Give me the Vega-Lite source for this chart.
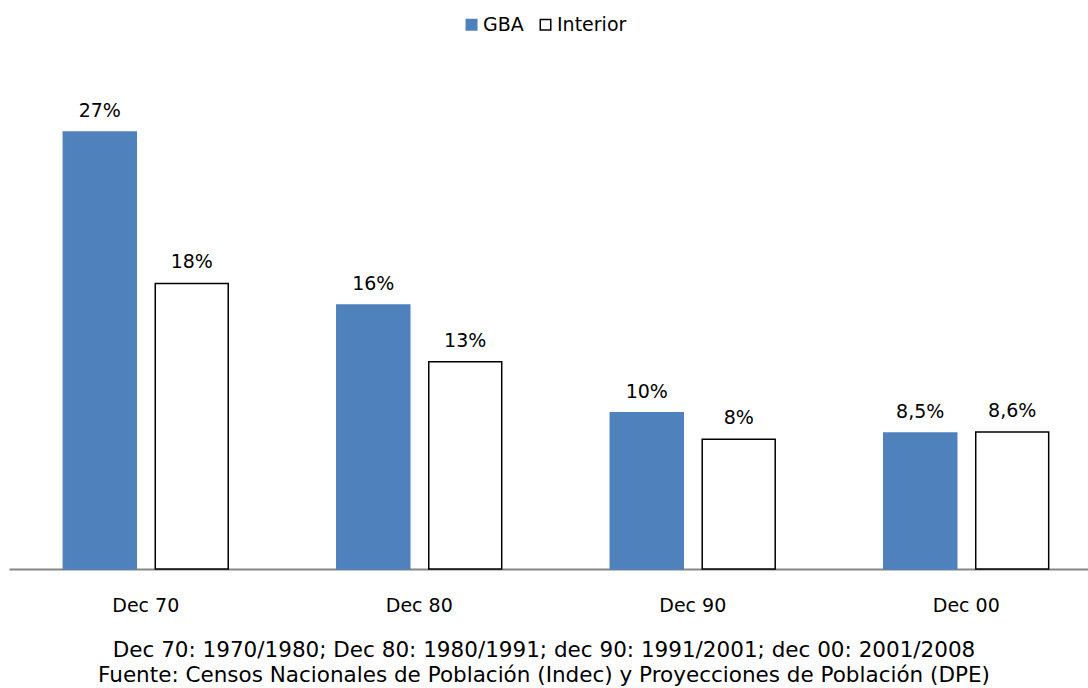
{
  "$schema": "https://vega.github.io/schema/vega-lite/v6.json",
  "width": 1088,
  "height": 482,
  "autosize": "none",
  "padding": {"left": 0, "right": 0, "top": 87, "bottom": 119},
  "background": "#ffffff",
  "data": {
    "values": [
      {"decada": "Dec 70", "serie": "GBA", "valor": 27.2, "etiqueta": "27%"},
      {"decada": "Dec 70", "serie": "Interior", "valor": 17.77, "etiqueta": "18%"},
      {"decada": "Dec 80", "serie": "GBA", "valor": 16.43, "etiqueta": "16%"},
      {"decada": "Dec 80", "serie": "Interior", "valor": 12.9, "etiqueta": "13%"},
      {"decada": "Dec 90", "serie": "GBA", "valor": 9.73, "etiqueta": "10%"},
      {"decada": "Dec 90", "serie": "Interior", "valor": 8.07, "etiqueta": "8%"},
      {"decada": "Dec 00", "serie": "GBA", "valor": 8.46, "etiqueta": "8,5%"},
      {"decada": "Dec 00", "serie": "Interior", "valor": 8.53, "etiqueta": "8,6%"}
    ]
  },
  "title": {
    "text": [
      "Dec 70: 1970/1980; Dec 80: 1980/1991; dec 90: 1991/2001; dec 00: 2001/2008",
      "Fuente: Censos Nacionales de Población (Indec) y Proyecciones de Población (DPE)"
    ],
    "orient": "bottom",
    "anchor": "middle",
    "font": "DejaVu Sans",
    "fontSize": 21.5,
    "fontWeight": "normal",
    "color": "#000000",
    "lineHeight": 25,
    "offset": 25
  },
  "encoding": {
    "x": {
      "field": "decada",
      "type": "nominal",
      "sort": ["Dec 70", "Dec 80", "Dec 90", "Dec 00"],
      "scale": {"range": [9, 1103], "paddingInner": 0.397, "paddingOuter": 0.1986},
      "axis": {
        "title": null,
        "labelAngle": 0,
        "ticks": false,
        "domainColor": "#868686",
        "domainWidth": 2,
        "labelFont": "DejaVu Sans",
        "labelFontSize": 19,
        "labelColor": "#000000",
        "labelPadding": 27,
        "grid": false
      }
    },
    "xOffset": {
      "field": "serie",
      "type": "nominal",
      "sort": ["GBA", "Interior"],
      "scale": {"paddingInner": 0.2065, "paddingOuter": 0}
    },
    "y": {
      "field": "valor",
      "type": "quantitative",
      "scale": {"domain": [0, 30]},
      "axis": null
    }
  },
  "layer": [
    {
      "mark": {"type": "bar", "strokeWidth": 1.5},
      "encoding": {
        "fill": {
          "field": "serie",
          "type": "nominal",
          "scale": {"domain": ["GBA", "Interior"], "range": ["#4F81BD", "#FFFFFF"]},
          "legend": {
            "title": null,
            "orient": "top",
            "direction": "horizontal",
            "symbolType": "square",
            "symbolSize": 110,
            "symbolStrokeWidth": 1.5,
            "labelFont": "DejaVu Sans",
            "labelFontSize": 19,
            "labelColor": "#000000",
            "labelOffset": 2,
            "columnPadding": 12,
            "offset": 52
          }
        },
        "stroke": {
          "field": "serie",
          "type": "nominal",
          "scale": {"domain": ["GBA", "Interior"], "range": ["#4F81BD", "#000000"]},
          "legend": {
            "title": null,
            "orient": "top",
            "direction": "horizontal",
            "symbolType": "square",
            "symbolSize": 110,
            "symbolStrokeWidth": 1.5,
            "labelFont": "DejaVu Sans",
            "labelFontSize": 19,
            "labelColor": "#000000",
            "labelOffset": 2,
            "columnPadding": 12,
            "offset": 52
          }
        }
      }
    },
    {
      "mark": {
        "type": "text",
        "baseline": "alphabetic",
        "dy": -15,
        "font": "DejaVu Sans",
        "fontSize": 19,
        "color": "#000000"
      },
      "encoding": {"text": {"field": "etiqueta"}}
    }
  ],
  "config": {
    "view": {"stroke": null},
    "legend": {"layout": {"top": {"anchor": "middle"}}}
  }
}
